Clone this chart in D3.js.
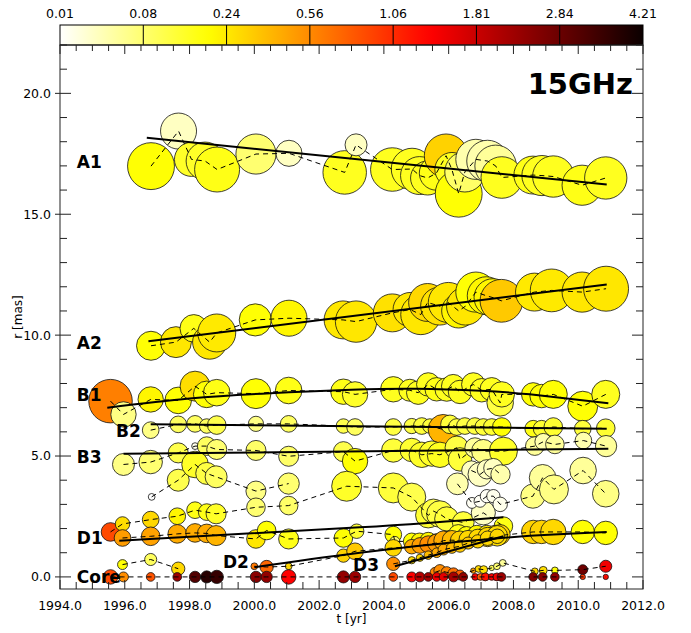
<!DOCTYPE html>
<html><head><meta charset="utf-8">
<script src="https://cdn.jsdelivr.net/npm/d3@7"></script>
<style>body{margin:0;background:#fff}svg{display:block}text{font-family:"DejaVu Sans",sans-serif}</style>
</head><body><svg id="c" width="691" height="633"></svg>
<script>
// each row: [epoch t (yr), distance r (mas), FWHM size (mas), flux (Jy)]
const A1 = [[1996.81,16.99,1.94,0.2],[1997.66,18.44,1.49,0.04],[1998.06,17.27,1.41,0.16],[1998.48,17.2,1.57,0.16],[1998.85,16.85,1.86,0.18],[2000.05,17.49,1.66,0.08],[2001.07,17.52,1.08,0.04],[2002.79,16.73,1.8,0.17],[2003.14,17.87,0.91,0.04],[2004.26,16.85,1.8,0.17],[2004.87,16.87,1.72,0.17],[2005.1,16.6,1.57,0.17],[2005.35,16.5,1.41,0.17],[2005.62,16.7,1.41,0.18],[2005.92,17.42,1.8,0.32],[2006.1,16.85,1.41,0.17],[2006.31,15.85,1.94,0.2],[2006.5,16.75,1.66,0.09],[2006.84,17.27,1.66,0.05],[2007.2,17.2,1.72,0.05],[2007.45,17.0,1.72,0.06],[2007.64,16.52,1.72,0.17],[2008.6,16.62,1.57,0.18],[2008.88,16.6,1.66,0.17],[2009.23,16.56,1.71,0.17],[2010.12,16.2,1.66,0.18],[2010.85,16.5,1.75,0.17]];
const A2 = [[1996.81,9.56,1.2,0.2],[1997.58,9.71,1.28,0.25],[1998.13,10.28,1.14,0.18],[1998.62,9.71,1.41,0.25],[1998.84,10.09,1.57,0.24],[2000.03,10.63,1.33,0.2],[2001.07,10.7,1.49,0.22],[2002.74,10.63,1.57,0.25],[2003.14,10.56,1.71,0.25],[2004.26,10.92,1.57,0.27],[2004.81,11.06,1.41,0.25],[2005.14,10.85,1.66,0.25],[2005.35,11.35,1.57,0.3],[2005.72,11.2,1.57,0.27],[2005.99,11.35,1.66,0.25],[2006.31,11.0,1.41,0.22],[2006.52,11.2,1.57,0.25],[2006.84,11.78,1.66,0.2],[2007.16,11.63,1.57,0.22],[2007.37,11.55,1.57,0.22],[2007.63,11.42,1.77,0.35],[2008.65,11.78,1.57,0.24],[2009.18,11.85,1.77,0.24],[2010.12,11.78,1.66,0.25],[2010.86,11.92,1.86,0.25]];
const B1 = [[1995.56,7.27,1.8,0.62],[1995.96,6.72,1.05,0.07],[1996.8,7.34,1.05,0.22],[1997.65,7.3,1.1,0.2],[1998.17,7.89,1.24,0.28],[1998.53,7.55,1.1,0.2],[1998.84,7.62,1.1,0.18],[2000.05,7.58,1.24,0.2],[2001.06,7.71,1.1,0.18],[2002.75,7.66,1.05,0.18],[2003.11,7.55,1.05,0.16],[2004.29,7.76,1.05,0.17],[2004.8,7.72,0.91,0.17],[2005.06,7.62,0.97,0.17],[2005.37,7.96,0.97,0.17],[2005.63,7.76,0.97,0.18],[2005.94,7.75,0.97,0.17],[2006.14,7.89,0.97,0.17],[2006.35,7.65,0.97,0.17],[2006.76,7.96,0.97,0.17],[2007.02,7.72,0.97,0.17],[2007.33,7.76,0.97,0.17],[2007.59,7.2,1.1,0.13],[2007.64,7.55,1.05,0.17],[2008.61,7.55,0.97,0.2],[2008.87,7.48,0.97,0.2],[2009.23,7.55,1.16,0.2],[2010.14,7.06,1.24,0.2],[2010.85,7.55,1.16,0.17]];
const B2 = [[1996.8,6.07,0.69,0.07],[1997.65,6.31,0.69,0.1],[1998.17,6.33,0.69,0.1],[1998.53,6.24,0.6,0.1],[1998.84,6.28,0.77,0.12],[2000.05,6.33,0.63,0.07],[2001.06,6.33,0.69,0.1],[2002.75,6.24,0.6,0.12],[2003.11,6.2,0.69,0.1],[2004.29,6.2,0.69,0.13],[2004.86,6.24,0.63,0.13],[2005.17,6.24,0.69,0.14],[2005.42,6.24,0.6,0.14],[2005.83,6.1,1.24,0.42],[2006.04,6.31,0.77,0.14],[2006.25,6.2,0.69,0.13],[2006.5,6.24,0.69,0.13],[2006.81,6.24,0.69,0.13],[2007.07,6.2,0.69,0.14],[2007.33,6.2,0.69,0.15],[2007.64,6.2,0.77,0.2],[2008.61,6.13,0.69,0.18],[2008.87,6.13,0.69,0.15],[2009.23,6.2,0.77,0.15],[2010.14,6.13,0.69,0.14],[2010.85,6.15,0.77,0.15]];
const B3 = [[1995.96,4.65,0.91,0.07],[1996.8,4.75,0.97,0.08],[1997.65,5.13,0.83,0.12],[1998.17,5.41,0.28,0.02],[1998.53,5.41,0.77,0.1],[1998.84,5.27,0.83,0.08],[2000.05,5.23,0.83,0.09],[2001.06,4.99,0.83,0.09],[2002.75,5.18,0.83,0.12],[2003.11,4.79,1.05,0.2],[2004.29,5.23,0.97,0.14],[2004.86,5.25,0.97,0.15],[2005.17,5.05,1.05,0.16],[2005.48,5.1,1.05,0.16],[2005.73,5.05,1.05,0.17],[2006.25,5.34,0.97,0.13],[2006.35,4.86,0.97,0.14],[2006.81,5.34,0.83,0.06],[2007.07,5.2,0.97,0.07],[2007.69,5.2,1.16,0.16],[2008.66,5.41,0.77,0.06],[2008.92,5.59,0.69,0.05],[2009.28,5.48,0.77,0.06],[2010.16,5.64,0.69,0.05],[2010.86,5.41,0.88,0.06]];
const C1 = [[1996.83,3.31,0.28,0.01],[1997.65,4.0,0.91,0.12],[1998.17,4.65,1.1,0.16],[1998.53,4.28,0.91,0.13],[1998.82,4.14,0.91,0.1],[2000.05,3.55,0.83,0.07],[2001.06,3.86,0.88,0.08]];
const C2 = [[1995.56,1.86,0.77,0.9],[1995.93,2.19,0.6,0.28],[1996.8,2.37,0.69,0.3],[1997.62,2.51,0.69,0.22],[1998.17,2.76,0.69,0.18],[1998.53,2.68,0.69,0.18],[1998.82,2.61,0.83,0.16],[2000.05,2.88,0.77,0.08],[2001.06,2.95,0.77,0.09],[2002.85,3.75,1.24,0.16],[2004.29,3.68,1.24,0.14],[2004.86,3.3,1.16,0.12],[2005.37,2.55,1.05,0.15],[2005.53,2.72,1.0,0.13],[2005.73,2.6,1.1,0.13],[2005.94,2.4,1.0,0.14],[2006.45,2.25,0.9,0.14],[2007.07,2.65,1.0,0.04],[2007.69,2.1,0.77,0.18]];
const C3 = [[2006.27,3.85,0.9,0.05],[2006.72,3.06,0.45,0.015],[2006.97,3.13,0.5,0.015],[2007.18,3.34,0.55,0.015],[2007.38,3.34,0.55,0.02],[2007.59,3.0,0.6,0.02],[2008.6,3.34,1.0,0.07],[2008.9,4.1,1.1,0.06],[2009.25,3.62,1.2,0.07],[2010.15,4.4,1.1,0.06],[2010.85,3.44,1.1,0.07]];
const C4 = [[2006.7,4.4,0.8,0.04],[2006.97,4.24,1.0,0.04],[2007.18,4.45,0.8,0.04],[2007.38,4.5,0.8,0.04],[2007.6,4.24,0.8,0.05]];
const D1 = [[1995.93,1.61,0.69,0.5],[1996.8,1.68,0.77,0.48],[1997.62,1.78,0.77,0.45],[1998.17,1.82,0.77,0.45],[1998.53,1.8,0.77,0.45],[1998.82,1.71,0.83,0.42],[2000.05,1.57,0.77,0.25],[2000.38,1.92,0.77,0.2],[2001.06,1.57,0.83,0.18],[2002.75,1.61,0.77,0.2],[2003.16,1.89,0.6,0.15],[2004.29,1.75,0.69,0.2],[2004.34,1.47,0.41,0.08],[2004.86,1.47,0.69,0.2],[2005.1,1.47,0.69,0.22],[2005.37,1.5,0.69,0.22],[2005.63,1.4,0.77,0.22],[2005.94,1.5,0.77,0.2],[2006.3,1.75,0.83,0.18],[2006.55,1.7,0.77,0.2],[2006.87,1.75,0.77,0.22],[2007.18,1.75,0.77,0.25],[2007.44,1.75,0.77,0.28],[2007.59,1.75,0.83,0.32]];
const D2 = [[2000.0,0.44,0.28,0.65],[2000.38,0.41,0.55,0.75],[2001.06,0.44,0.28,0.3],[2002.75,0.88,0.55,0.32],[2003.11,1.06,0.69,0.35],[2004.29,1.2,0.69,0.3],[2004.86,1.25,0.6,0.45],[2005.11,1.3,0.65,0.5],[2005.37,1.35,0.7,0.55],[2005.63,1.4,0.75,0.5],[2005.84,1.5,0.8,0.45],[2006.1,1.52,0.8,0.4],[2006.35,1.5,0.8,0.32],[2006.6,1.55,0.75,0.3],[2006.9,1.6,0.75,0.3],[2007.2,1.65,0.8,0.3],[2007.5,1.7,0.85,0.28],[2008.61,1.86,0.97,0.32],[2008.87,1.86,0.97,0.32],[2009.23,1.86,1.05,0.3],[2010.14,1.86,0.97,0.2],[2010.85,1.82,0.97,0.2]];
const D3 = [[2004.29,0.54,0.55,0.55],[2004.86,0.69,0.3,0.3],[2005.11,0.79,0.3,0.3],[2005.37,0.9,0.35,0.4],[2005.63,1.0,0.4,0.45],[2005.84,1.13,0.45,0.45],[2006.1,1.2,0.45,0.4],[2006.35,1.27,0.5,0.35],[2006.6,1.4,0.5,0.35],[2006.9,1.47,0.55,0.32],[2007.2,1.6,0.6,0.3],[2007.5,1.68,0.6,0.3]];
const E1 = [[1995.93,0.51,0.41,0.2],[1996.8,0.72,0.5,0.1],[1997.65,0.34,0.55,0.3]];
const F1 = [[2005.58,0.19,0.41,0.6],[2005.73,0.26,0.5,0.55],[2005.94,0.19,0.47,0.6],[2006.15,0.14,0.47,0.7],[2006.35,0.08,0.41,0.8],[2006.76,0.26,0.22,0.5],[2006.92,0.33,0.28,0.3],[2007.08,0.3,0.33,0.28],[2007.33,0.37,0.22,0.1],[2007.49,0.44,0.28,0.08],[2007.67,0.58,0.28,0.06],[2008.66,0.23,0.28,0.3],[2008.92,0.27,0.33,0.28],[2009.28,0.27,0.28,0.2],[2010.14,0.3,0.41,2.8],[2010.85,0.44,0.5,1.5]];
const Core = [[1995.56,0,0.6,0.9],[1995.96,0,0.41,0.55],[1996.8,0,0.36,0.85],[1997.62,0,0.36,2.3],[1998.17,0,0.47,3.2],[1998.53,0,0.5,3.8],[1998.84,0,0.55,3.6],[2000.05,0,0.47,2.5],[2000.38,0,0.47,2.4],[2001.06,0,0.6,1.4],[2002.75,0,0.5,2.4],[2003.11,0,0.47,2.3],[2004.29,0,0.36,0.9],[2004.86,0,0.41,1.4],[2005.11,0,0.41,2.0],[2005.37,0,0.36,2.2],[2005.63,0,0.36,1.5],[2005.84,0,0.36,1.6],[2006.15,0,0.41,2.2],[2006.45,0,0.36,2.4],[2006.82,0,0.28,1.4],[2006.98,0,0.28,0.8],[2007.13,0,0.33,1.3],[2007.33,0,0.28,1.4],[2007.49,0,0.33,1.5],[2007.63,0,0.36,2.3],[2008.61,0,0.36,2.6],[2008.9,0,0.36,2.5],[2009.28,0,0.36,2.4],[2010.14,0,0.22,1.0],[2010.85,0,0.22,1.3]];
const components = [A1, A2, B1, B2, B3, C1, C2, C4, C3, D1, D2, D3, E1, F1, Core];

// kinematic fits [t, r]
const fitA1 = [[1996.68,18.16],[2010.88,16.23]];
const fitA2 = [[1996.73,9.75],[2010.88,12.09]];
const fitB1 = [[1995.46,7.0],[1998.0,7.38],[2000.5,7.6],[2003,7.74],[2005,7.78],[2007,7.7],[2008.5,7.55],[2010.93,7.18]];
const fitB2 = [[1996.8,6.31],[2010.88,6.13]];
const fitB3 = [[1995.96,5.09],[2010.93,5.3]];
const fitD1 = [[1995.83,1.5],[2003.26,2.05],[2007.69,2.47]];
const fitD2 = [[2000.0,0.4],[2003.26,1.0],[2007.7,1.62],[2010.88,1.86]];
const fitD3 = [[2004.34,0.44],[2007.69,1.68]];
const fits = [fitA1, fitA2, fitB1, fitB2, fitB3, fitD1, fitD2, fitD3];

const labelNames = ["A1","A2","B1","B2","B3","D1","D2","D3","Core"];
const labelT = [1994.52,1994.52,1994.52,1995.73,1994.52,1994.52,1999.03,2003.05,1994.52];
const labelR = [17.17,9.69,7.52,6.05,4.95,1.6,0.63,0.49,0.0];

const cbTicks = [0.01,0.08,0.24,0.56,1.06,1.81,2.84,4.21];
const xTickMajor = d3.range(1994, 2012.01, 2);
const yTickMajor = [0,5,10,15,20];

// ---------- drawing ----------
const svg = d3.select("#c");
const x = d3.scaleLinear().domain([1994,2012]).range([60,643]);
const y = d3.scaleLinear().domain([-0.5,22]).range([589,45]);
const rad = s => y(0) - y(s/2);
const fluxPos = d3.scaleLinear().domain(cbTicks).range(cbTicks.map((_,i)=>i/7)).clamp(true);
const cl = v => Math.max(0, Math.min(1, v));
function hot(v){
  const r = 0.0416 + (1-0.0416)*cl(v/0.365079);
  const g = cl((v-0.365079)/(0.746032-0.365079));
  const b = cl((v-0.746032)/(1-0.746032));
  return d3.rgb(r*255, g*255, b*255).toString();
}
const colorOf = f => hot(1 - fluxPos(f));

// colorbar
const defs = svg.append("defs");
const grad = defs.append("linearGradient").attr("id","cb").attr("x1","0%").attr("x2","100%");
d3.range(0,1.0001,0.02).forEach(p => grad.append("stop").attr("offset",(p*100)+"%").attr("stop-color", hot(1-p)));
const cbX = d3.scaleLinear().domain([0,7]).range([60,643]);
svg.append("rect").attr("x",60).attr("y",25).attr("width",583).attr("height",20).attr("fill","url(#cb)").attr("stroke","#000").attr("stroke-width",1);
svg.selectAll(".cbsep").data(cbTicks.slice(1,-1)).enter().append("line")
  .attr("x1",(d,i)=>cbX(i+1)).attr("x2",(d,i)=>cbX(i+1)).attr("y1",25).attr("y2",45).attr("stroke","#000").attr("stroke-width",1);
svg.selectAll(".cbl").data(cbTicks).enter().append("text")
  .attr("x",(d,i)=>cbX(i)).attr("y",18).attr("text-anchor","middle").attr("font-size","12.5px").text(d=>d.toFixed(2));

// plot clip
defs.append("clipPath").attr("id","pc").append("rect").attr("x",60).attr("y",45).attr("width",583).attr("height",544);
const plot = svg.append("g").attr("clip-path","url(#pc)");

const line = d3.line().x(d=>x(d[0])).y(d=>y(d[1]));
components.forEach(comp => {
  const g = plot.append("g");
  g.selectAll("circle").data(comp).enter().append("circle")
    .attr("cx", d=>x(d[0])).attr("cy", d=>y(d[1])).attr("r", d=>rad(d[2]))
    .attr("fill", d=>colorOf(d[3])).attr("stroke","#111").attr("stroke-width",0.8);
  g.append("path").attr("d", line(comp)).attr("fill","none").attr("stroke","#000")
    .attr("stroke-width",1).attr("stroke-dasharray","5,4");
});
const fitLine = d3.line().x(d=>x(d[0])).y(d=>y(d[1])).curve(d3.curveNatural);
fits.forEach(f => plot.append("path").attr("d", fitLine(f)).attr("fill","none").attr("stroke","#000").attr("stroke-width",2));

// frame and ticks
const ax = svg.append("g").attr("stroke","#222").attr("stroke-width",1);
ax.append("rect").attr("x",60).attr("y",45).attr("width",583).attr("height",544).attr("fill","none");
d3.range(1994,2012.001,0.5).forEach(t => {
  const maj = Math.abs(t/2 - Math.round(t/2)) < 1e-6;
  ax.append("line").attr("x1",x(t)).attr("x2",x(t)).attr("y1",589).attr("y2",589-(maj?9:7));
  ax.append("line").attr("x1",x(t)).attr("x2",x(t)).attr("y1",45).attr("y2",45+(maj?9:6));
});
d3.range(0,22.001,1).forEach(v => {
  const maj = v % 5 === 0;
  ax.append("line").attr("x1",maj?55:60).attr("x2",60+(maj?11:7)).attr("y1",y(v)).attr("y2",y(v));
  ax.append("line").attr("x1",643-(maj?11:7)).attr("x2",643).attr("y1",y(v)).attr("y2",y(v));
});
svg.selectAll(".xt").data(xTickMajor).enter().append("text")
  .attr("x",d=>x(d)).attr("y",610).attr("text-anchor","middle").attr("font-size","12.5px").text(d=>d.toFixed(1));
svg.selectAll(".yt").data(yTickMajor).enter().append("text")
  .attr("x",51).attr("y",d=>y(d)).attr("dy","0.35em").attr("text-anchor","end").attr("font-size","12.5px").text(d=>d.toFixed(1));
svg.append("text").attr("x",351.5).attr("y",623).attr("text-anchor","middle").attr("font-size","12px").text("t [yr]");
svg.append("text").attr("transform","translate(22,317) rotate(-90)").attr("text-anchor","middle").attr("font-size","12px").text("r [mas]");
svg.append("text").attr("x",633).attr("y",94).attr("text-anchor","end").attr("font-size","29px").attr("font-weight","bold").text("15GHz");
svg.selectAll(".cl").data(labelNames).enter().append("text")
  .attr("x",(d,i)=>x(labelT[i])).attr("y",(d,i)=>y(labelR[i])).attr("dy","0.36em")
  .attr("font-size","17px").attr("font-weight","bold").text(d=>d);
</script></body></html>
